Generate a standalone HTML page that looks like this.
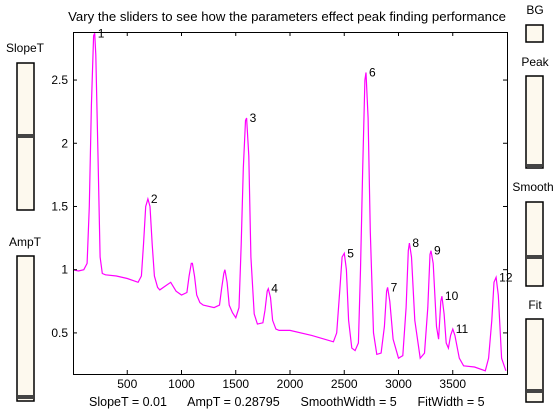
<!DOCTYPE html>
<html><head><meta charset="utf-8"><style>
body{margin:0;background:#fff;width:560px;height:420px;overflow:hidden;font-family:"Liberation Sans",sans-serif}
</style></head><body>
<svg width="560" height="420" style="position:absolute;left:0;top:0;font-family:'Liberation Sans',sans-serif;font-size:12px">
<g id="sliders"></g>
<g id="chart"></g>
</svg>
<script>
const xs=[0,50,100,130,150,170,190,200,210,230,250,270,300,400,500,600,630,650,670,690,710,730,750,780,800,850,900,950,1000,1050,1070,1090,1100,1120,1140,1170,1200,1300,1350,1370,1390,1400,1420,1440,1470,1500,1530,1550,1570,1590,1600,1620,1640,1670,1700,1750,1770,1790,1800,1820,1840,1870,1900,2000,2200,2400,2430,2460,2480,2500,2520,2540,2570,2600,2630,2650,2670,2690,2700,2720,2740,2770,2800,2840,2870,2890,2900,2920,2950,3000,3040,3070,3090,3100,3120,3150,3200,3240,3270,3290,3300,3320,3350,3370,3390,3400,3420,3440,3460,3480,3500,3520,3560,3600,3700,3800,3830,3860,3880,3900,3920,3950,3990];
const ys=[1.0,0.99,1.0,1.05,1.5,2.3,2.85,2.87,2.7,1.9,1.1,0.97,0.96,0.95,0.93,0.9,0.95,1.2,1.5,1.56,1.5,1.2,0.95,0.86,0.84,0.87,0.9,0.83,0.8,0.82,0.95,1.05,1.05,0.95,0.8,0.74,0.72,0.7,0.72,0.85,0.97,1.0,0.9,0.72,0.66,0.62,0.7,1.2,1.8,2.18,2.2,1.9,1.1,0.65,0.57,0.58,0.68,0.83,0.85,0.78,0.6,0.53,0.52,0.52,0.48,0.43,0.5,0.85,1.1,1.13,1.0,0.6,0.38,0.36,0.42,1.0,1.8,2.5,2.56,2.2,1.3,0.5,0.33,0.34,0.55,0.83,0.86,0.75,0.45,0.3,0.32,0.7,1.15,1.21,1.1,0.6,0.3,0.34,0.7,1.12,1.15,1.05,0.55,0.45,0.75,0.79,0.65,0.42,0.38,0.48,0.53,0.48,0.3,0.24,0.23,0.2,0.3,0.6,0.9,0.94,0.8,0.3,0.2];
const peakX=[200,690,1600,1800,2500,2700,2900,3100,3300,3400,3500,3900];
const peakY=[2.87,1.56,2.2,0.85,1.13,2.56,0.86,1.21,1.15,0.79,0.53,0.94];
const xTicks=[500,1000,1500,2000,2500,3000,3500];
const yTicks=[0.5,1,1.5,2,2.5];
const L=73,R=507,T=32,B=374,XMIN=0,XMAX=4000,YMIN=0.175,YMAX=2.88;
const sx=v=>L+(v-XMIN)/(XMAX-XMIN)*(R-L);
const sy=v=>B-(v-YMIN)/(YMAX-YMIN)*(B-T);
const NS='http://www.w3.org/2000/svg';
function mk(tag,attrs,parent,txt){const e=document.createElementNS(NS,tag);for(const k in attrs)e.setAttribute(k,attrs[k]);if(txt!==undefined)e.textContent=txt;parent.appendChild(e);return e;}
const c=document.getElementById('chart');
let t=mk('text',{x:287,y:21,'text-anchor':'middle','font-size':'13.2px'},c,'Vary the sliders to see how the parameters effect peak finding performance');


let clip=mk('clipPath',{id:'cp'},c);mk('rect',{x:L,y:T,width:R-L,height:B-T},clip);
let line=mk('polyline',{points:xs.map((x,i)=>sx(x).toFixed(1)+','+sy(ys[i]).toFixed(1)).join(' '),fill:'none',stroke:'#ff00ff','stroke-width':1.2,'clip-path':'url(#cp)'},c);


let fr=mk('rect',{x:L+0.5,y:T+0.5,width:R-L,height:B-T,fill:'none',stroke:'#000'},c);


xTicks.forEach(v=>{const x=sx(v);mk('line',{x1:x,x2:x,y1:B,y2:B-4,stroke:'#000'},c);mk('line',{x1:x,x2:x,y1:T,y2:T+4,stroke:'#000'},c);
 const e=mk('text',{x:x,y:B+14,'text-anchor':'middle'},c,String(v));
 
 });
yTicks.forEach(v=>{const y=sy(v);mk('line',{x1:L,x2:L+4,y1:y,y2:y,stroke:'#000'},c);mk('line',{x1:R,x2:R-4,y1:y,y2:y,stroke:'#000'},c);
 const e=mk('text',{x:L-5,y:y+4,'text-anchor':'end'},c,String(v));
 
 });
peakX.forEach((v,i)=>{const e=mk('text',{x:sx(v)+3,y:sy(peakY[i])+4},c,String(i+1));
 
 });
let st=mk('text',{x:89,y:406,style:'white-space:pre','font-size':'12.5px'},c,'SlopeT = 0.01      AmpT = 0.28795      SmoothWidth = 5      FitWidth = 5');


const s=document.getElementById('sliders');
function slider(name,label,lx,ly,x,y1,y2,k){
 const l=mk('text',{x:lx,y:ly,'text-anchor':'middle'},s,label);
 
 
 const r=mk('rect',{x:x,y:y1,width:17,height:y2-y1,fill:'#fdf9ee',stroke:'#000','stroke-width':1.5},s);
 
 
 if(k){const h=mk('rect',{x:x+1,y:k,width:15,height:4,fill:'#444'},s);
 
 }
}
slider('slopet','SlopeT',25,52,17,63,210,134);
slider('ampt','AmpT',25,246,17,256,401,395);
slider('bg','BG',535,14,526,25,42,0);
slider('peak','Peak',535,66,526,76,168,164);
slider('smooth','Smooth',533,191,526,202,286,255);
slider('fit','Fit',535,309,526,319,402,389);
</script>
</body></html>
